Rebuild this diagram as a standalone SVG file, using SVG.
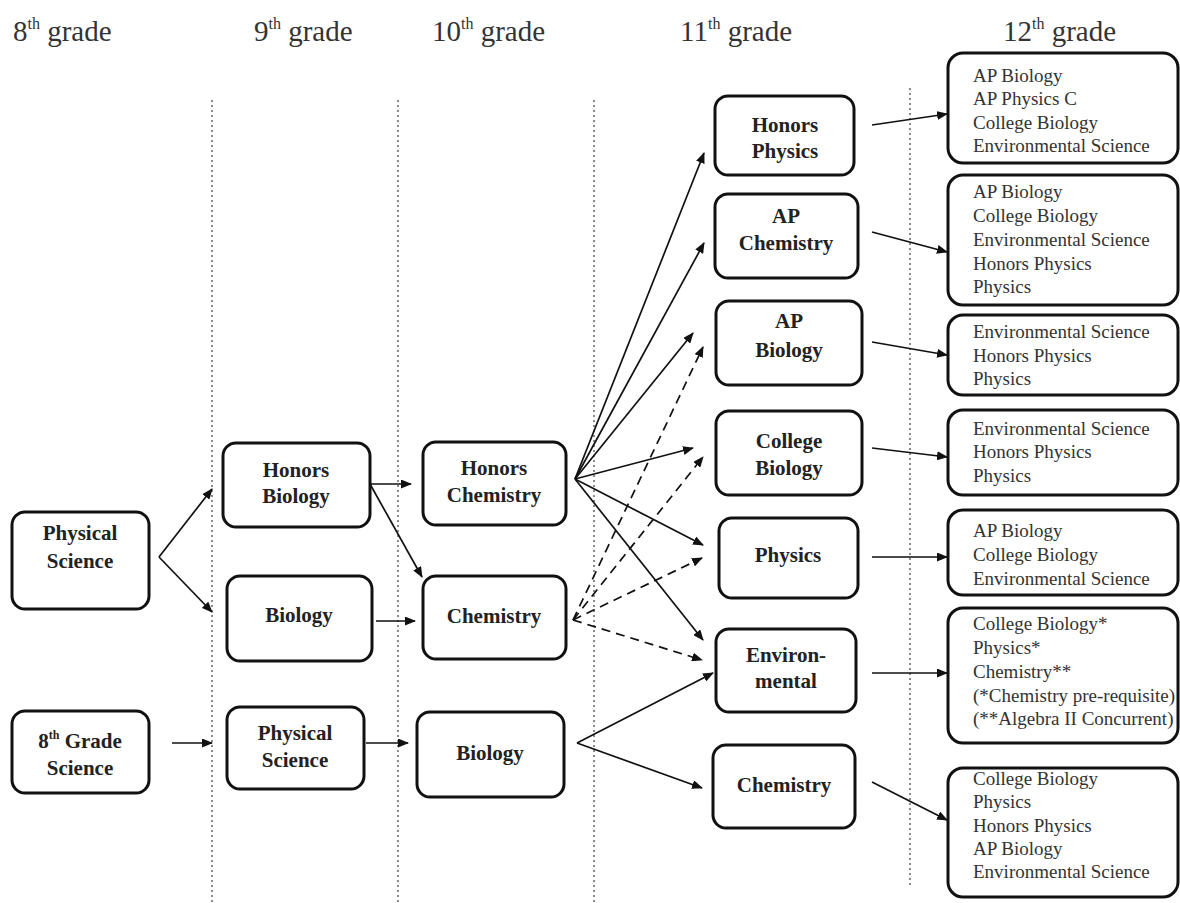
<svg xmlns="http://www.w3.org/2000/svg" width="1180" height="903" viewBox="0 0 1180 903">
<defs>
<marker id="ah" markerUnits="userSpaceOnUse" markerWidth="11" markerHeight="9" refX="10" refY="4.5" orient="auto">
<path d="M0,0 L11,4.5 L0,9 z" fill="#111"/>
</marker>
<style>
.box{fill:#fff;stroke:#111;stroke-width:3}
.lbl{font-family:"Liberation Serif","Times New Roman",serif;font-weight:bold;font-size:21px;text-anchor:middle;fill:#222}
.lst{font-family:"Liberation Serif","Times New Roman",serif;font-size:19px;fill:#333}
.hdr{font-family:"Liberation Serif","Times New Roman",serif;font-size:29px;fill:#333}
.grid{stroke:#666;stroke-width:1.5;stroke-dasharray:2 3;fill:none}
.edge{stroke:#111;stroke-width:1.7;fill:none;marker-end:url(#ah)}
.dash{stroke-dasharray:9 6}
</style>
</defs>
<rect width="1180" height="903" fill="#fff"/>

<g id="headers">
<text class="hdr" x="13" y="41">8<tspan font-size="16" dy="-12">th</tspan><tspan dy="12"> grade</tspan></text>
<text class="hdr" x="254" y="41">9<tspan font-size="16" dy="-12">th</tspan><tspan dy="12"> grade</tspan></text>
<text class="hdr" x="432" y="41">10<tspan font-size="16" dy="-12">th</tspan><tspan dy="12"> grade</tspan></text>
<text class="hdr" x="680" y="41">11<tspan font-size="16" dy="-12">th</tspan><tspan dy="12"> grade</tspan></text>
<text class="hdr" x="1003" y="41">12<tspan font-size="16" dy="-12">th</tspan><tspan dy="12"> grade</tspan></text>
</g>

<g id="gridlines">
<line class="grid" x1="212" y1="100" x2="212" y2="903"/>
<line class="grid" x1="398" y1="100" x2="398" y2="903"/>
<line class="grid" x1="594" y1="100" x2="594" y2="903"/>
<line class="grid" x1="910" y1="88" x2="910" y2="888"/>
</g>

<g id="connectors">
<path class="edge" d="M159,557 L212,489"/>
<path class="edge" d="M159,557 L212,612"/>
<path class="edge" d="M172,743 L212,743"/>
<path class="edge" d="M370,484 L411,484"/>
<path class="edge" d="M370,484 L422,577"/>
<path class="edge" d="M376,621 L415,621"/>
<path class="edge" d="M366,743 L408,743"/>
<path class="edge" d="M575,479 L704,153"/>
<path class="edge" d="M575,479 L704,243"/>
<path class="edge" d="M575,479 L693,333"/>
<path class="edge" d="M575,479 L693,448"/>
<path class="edge" d="M575,479 L703,545"/>
<path class="edge" d="M575,479 L703,640"/>
<path class="edge dash" d="M573,620 L703,347"/>
<path class="edge dash" d="M573,620 L703,457"/>
<path class="edge dash" d="M573,620 L702,558"/>
<path class="edge dash" d="M573,620 L702,660"/>
<path class="edge" d="M577,743 L713,673"/>
<path class="edge" d="M577,743 L702,788"/>
<path class="edge" d="M872,125 L947,114"/>
<path class="edge" d="M872,232 L947,252"/>
<path class="edge" d="M872,342 L947,355"/>
<path class="edge" d="M872,448 L947,457"/>
<path class="edge" d="M872,557 L947,557"/>
<path class="edge" d="M872,673 L947,673"/>
<path class="edge" d="M872,782 L947,820"/>
</g>

<g id="n_ps8"><rect class="box" x="12" y="512" width="137" height="97" rx="13"/><text class="lbl" x="80" y="540">Physical</text><text class="lbl" x="80" y="568">Science</text></g>
<g id="n_g8"><rect class="box" x="12" y="711" width="137" height="82" rx="13"/><text class="lbl" x="80" y="748">8<tspan font-size="12" dy="-9">th</tspan><tspan dy="9"> Grade</tspan></text><text class="lbl" x="80" y="775">Science</text></g>

<g id="n_hbio"><rect class="box" x="223" y="443" width="147" height="84" rx="13"/><text class="lbl" x="296" y="477">Honors</text><text class="lbl" x="296" y="503">Biology</text></g>
<g id="n_bio9"><rect class="box" x="227" y="576" width="145" height="85" rx="13"/><text class="lbl" x="299" y="622">Biology</text></g>
<g id="n_ps9"><rect class="box" x="227" y="707" width="137" height="82" rx="13"/><text class="lbl" x="295" y="740">Physical</text><text class="lbl" x="295" y="767">Science</text></g>

<g id="n_hchem"><rect class="box" x="423" y="442" width="143" height="83" rx="13"/><text class="lbl" x="494" y="475">Honors</text><text class="lbl" x="494" y="502">Chemistry</text></g>
<g id="n_chem10"><rect class="box" x="423" y="576" width="143" height="83" rx="13"/><text class="lbl" x="494" y="623">Chemistry</text></g>
<g id="n_bio10"><rect class="box" x="417" y="712" width="147" height="85" rx="13"/><text class="lbl" x="490" y="760">Biology</text></g>

<g id="n_hphys"><rect class="box" x="715" y="96" width="139" height="79" rx="13"/><text class="lbl" x="785" y="132">Honors</text><text class="lbl" x="785" y="158">Physics</text></g>
<g id="n_apchem"><rect class="box" x="715" y="194" width="143" height="84" rx="13"/><text class="lbl" x="786" y="223">AP</text><text class="lbl" x="786" y="250">Chemistry</text></g>
<g id="n_apbio"><rect class="box" x="716" y="301" width="146" height="84" rx="13"/><text class="lbl" x="789" y="328">AP</text><text class="lbl" x="789" y="357">Biology</text></g>
<g id="n_colbio"><rect class="box" x="716" y="411" width="146" height="84" rx="13"/><text class="lbl" x="789" y="448">College</text><text class="lbl" x="789" y="475">Biology</text></g>
<g id="n_phys"><rect class="box" x="719" y="518" width="139" height="80" rx="13"/><text class="lbl" x="788" y="562">Physics</text></g>
<g id="n_env"><rect class="box" x="716" y="629" width="140" height="83" rx="13"/><text class="lbl" x="786" y="662">Environ-</text><text class="lbl" x="786" y="688">mental</text></g>
<g id="n_chem11"><rect class="box" x="713" y="745" width="142" height="83" rx="13"/><text class="lbl" x="784" y="792">Chemistry</text></g>

<g id="n_l1"><rect class="box" x="948" y="53" width="230" height="110" rx="15"/>
<text class="lst" x="973" y="82">AP Biology</text><text class="lst" x="973" y="105">AP Physics C</text><text class="lst" x="973" y="129">College Biology</text><text class="lst" x="973" y="152">Environmental Science</text></g>
<g id="n_l2"><rect class="box" x="948" y="175" width="230" height="130" rx="15"/>
<text class="lst" x="973" y="198">AP Biology</text><text class="lst" x="973" y="222">College Biology</text><text class="lst" x="973" y="246">Environmental Science</text><text class="lst" x="973" y="270">Honors Physics</text><text class="lst" x="973" y="293">Physics</text></g>
<g id="n_l3"><rect class="box" x="948" y="315" width="230" height="80" rx="15"/>
<text class="lst" x="973" y="338">Environmental Science</text><text class="lst" x="973" y="362">Honors Physics</text><text class="lst" x="973" y="385">Physics</text></g>
<g id="n_l4"><rect class="box" x="948" y="410" width="230" height="85" rx="15"/>
<text class="lst" x="973" y="435">Environmental Science</text><text class="lst" x="973" y="458">Honors Physics</text><text class="lst" x="973" y="482">Physics</text></g>
<g id="n_l5"><rect class="box" x="948" y="510" width="230" height="85" rx="15"/>
<text class="lst" x="973" y="537">AP Biology</text><text class="lst" x="973" y="561">College Biology</text><text class="lst" x="973" y="585">Environmental Science</text></g>
<g id="n_l6"><rect class="box" x="948" y="608" width="230" height="135" rx="15"/>
<text class="lst" x="973" y="630">College Biology*</text><text class="lst" x="973" y="654">Physics*</text><text class="lst" x="973" y="678">Chemistry**</text><text class="lst" x="973" y="702">(*Chemistry pre-requisite)</text><text class="lst" x="973" y="725">(**Algebra II Concurrent)</text></g>
<g id="n_l7"><rect class="box" x="948" y="768" width="230" height="129" rx="15"/>
<text class="lst" x="973" y="785">College Biology</text><text class="lst" x="973" y="808">Physics</text><text class="lst" x="973" y="832">Honors Physics</text><text class="lst" x="973" y="855">AP Biology</text><text class="lst" x="973" y="878">Environmental Science</text></g>
</svg>
